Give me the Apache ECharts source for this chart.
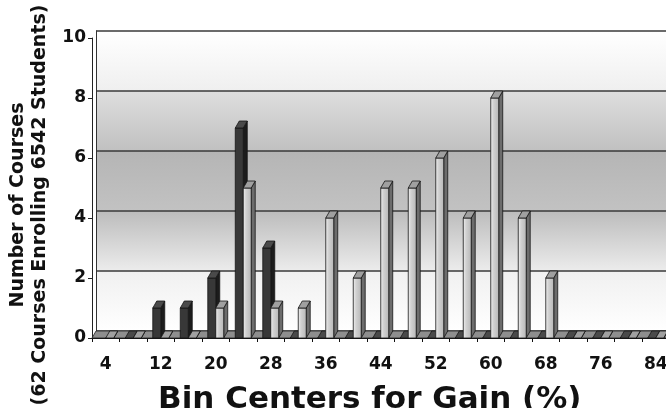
<!DOCTYPE html>
<html>
<head>
<meta charset="utf-8">
<script src="https://cdn.jsdelivr.net/npm/echarts@6/dist/echarts.min.js"></script>
<style>
  html, body { margin: 0; padding: 0; background: #ffffff; }
  #chart { width: 666px; height: 408px; }
</style>
</head>
<body>
<div id="chart"></div>
<script>
// Histogram of normalized gain, two course groups, drawn as Excel-style 3D columns.
const binCenters = ['4', '8', '12', '16', '20', '24', '28', '32', '36', '40', '44',
                    '48', '52', '56', '60', '64', '68', '72', '76', '80', '84'];
const darkCourses  = [null, 0, 1, 1, 2, 7, 3, 0, 0, 0, 0, 0, 0, 0, 0, 0, 0, 0, 0, 0, 0];
const lightCourses = [0, 0, 0, 0, 1, 5, 1, 1, 4, 2, 5, 5, 6, 4, 8, 4, 2, 0, 0, 0, 0];
const yMin = 0, yMax = 10, yStep = 2;
const yTickValues = [0, 2, 4, 6, 8, 10];

const FONT = 'DejaVu Sans';
const DX = 4, DY = -7;          // depth of the 3D projection
const BAR_RATIO = 0.29;         // column width relative to one bin
const EDGE = { stroke: '#151515', lineWidth: 0.8 };

// shading of the back wall between gridlines, bottom band first: [top colour, bottom colour]
const WALL_SHADES = [
  ['#f0f0f0', '#ffffff'],
  ['#bcbcbc', '#ececec'],
  ['#b5b5b5', '#c2c2c2'],
  ['#dedede', '#c0c0c0'],
  ['#ffffff', '#efefef']
];

const darkFaces = { front: '#383838', side: '#1c1c1c', top: '#4a4a4a' };
const lightFaces = {
  front: { type: 'linear', x: 0, y: 0, x2: 1, y2: 0,
           colorStops: [{ offset: 0, color: '#f4f4f4' }, { offset: 0.35, color: '#d2d2d2' },
                        { offset: 1, color: '#b6b6b6' }] },
  side: '#6c6c6c',
  top: '#a0a0a0'
};

// one shaded band of the back wall, spanning the whole plot width
function wallBandRenderer(params, api) {
  const cs = params.coordSys;
  const yHi = api.coord([0, api.value(2)])[1];
  const yLo = api.coord([0, api.value(1)])[1];
  const shade = WALL_SHADES[params.dataIndex % WALL_SHADES.length];
  return {
    type: 'rect',
    shape: { x: cs.x, y: yHi, width: cs.width, height: yLo - yHi },
    style: { fill: { type: 'linear', x: 0, y: 0, x2: 0, y2: 1,
                     colorStops: [{ offset: 0, color: shade[0] }, { offset: 1, color: shade[1] }] } }
  };
}

// a column: front face, right side face and top face; slot -1 = left of bin centre, 0 = right
function columnRenderer(slot, faces) {
  return function (params, api) {
    const v = api.value(1);
    if (v == null || isNaN(v)) return;
    const top = api.coord([api.value(0), v]);
    const base = api.coord([api.value(0), 0]);
    const w = api.size([1, 0])[0] * BAR_RATIO;
    const x0 = top[0] + slot * w, x1 = x0 + w;
    const yt = top[1], yb = base[1];
    return {
      type: 'group',
      children: [
        { type: 'polygon',
          shape: { points: [[x1, yt], [x1 + DX, yt + DY], [x1 + DX, yb + DY], [x1, yb]] },
          style: Object.assign({ fill: faces.side }, EDGE) },
        { type: 'rect', shape: { x: x0, y: yt, width: w, height: yb - yt },
          style: Object.assign({ fill: faces.front }, EDGE) },
        { type: 'polygon',
          shape: { points: [[x0, yt], [x1, yt], [x1 + DX, yt + DY], [x0 + DX, yt + DY]] },
          style: Object.assign({ fill: faces.top }, EDGE) }
      ]
    };
  };
}

// the floor strip between the front axis and the back wall
function floorRenderer(params, api) {
  const band = api.size([1, 0])[0];
  const a = api.coord([0, 0]);
  const b = api.coord([binCenters.length - 1, 0]);
  const xl = a[0] - band / 2, xr = b[0] + band / 2, y = a[1];
  return {
    type: 'polygon',
    shape: { points: [[xl, y], [xr, y], [xr + DX, y + DY], [xl + DX, y + DY]] },
    style: { fill: '#8e8e8e', stroke: '#222', lineWidth: 0.8 }
  };
}

const wallBands = yTickValues.slice(0, -1).map((v, i) => [0, v, yTickValues[i + 1]]);

const chart = echarts.init(document.getElementById('chart'), null, { renderer: 'canvas' });

chart.setOption({
  animation: false,
  backgroundColor: '#ffffff',
  grid: [
    { left: 92, top: 38, width: 577.5, height: 300,
      containLabel: false, outerBoundsMode: 'none' },             // front plane
    { left: 92 + DX, top: 38 + DY, width: 577.5, height: 300,
      containLabel: false, outerBoundsMode: 'none' }              // back wall
  ],
  xAxis: [
    {
      type: 'category', gridIndex: 0, data: binCenters, boundaryGap: true,
      axisLine: { lineStyle: { color: '#111', width: 1 } },
      axisTick: { show: true, interval: 0, length: 4, lineStyle: { color: '#111' } },
      axisLabel: { interval: 1, margin: 18, color: '#111',
                   fontFamily: FONT, fontWeight: 'bold', fontSize: 17 },
      name: 'Bin Centers for Gain (%)', nameLocation: 'middle', nameGap: 46,
      nameTextStyle: { color: '#111', fontFamily: FONT, fontWeight: 'bold', fontSize: 31,
                       padding: [0, 22, 0, 0] }
    },
    { type: 'category', gridIndex: 1, data: binCenters, show: false }
  ],
  yAxis: [
    {
      type: 'value', gridIndex: 0, min: yMin, max: yMax, interval: yStep,
      axisLine: { show: true, lineStyle: { color: '#222', width: 1 } },
      axisTick: { show: true, length: 4, lineStyle: { color: '#222' } },
      axisLabel: { margin: 6, color: '#111', fontFamily: FONT, fontWeight: 'bold', fontSize: 17 },
      splitLine: { show: false },
      name: 'Number of Courses\n(62 Courses Enrolling 6542 Students)',
      nameLocation: 'middle', nameRotate: 90, nameGap: 36,
      nameTextStyle: { color: '#111', fontFamily: FONT, fontWeight: 'bold', fontSize: 19,
                       lineHeight: 22, padding: [0, 34, 0, 0] }
    },
    {
      type: 'value', gridIndex: 1, min: yMin, max: yMax, interval: yStep,
      axisLine: { show: true, lineStyle: { color: '#333', width: 1 } },
      axisTick: { show: false },
      axisLabel: { show: false },
      splitLine: { show: true, lineStyle: { color: '#3a3a3a', width: 1.5 } },
      splitArea: { show: false }
    }
  ],
  series: [
    {
      type: 'custom', name: 'wall', xAxisIndex: 1, yAxisIndex: 1, z: -1, silent: true,
      renderItem: wallBandRenderer, encode: { x: 0, y: [1, 2] }, data: wallBands
    },
    {
      type: 'custom', name: 'floor', xAxisIndex: 0, yAxisIndex: 0,
      renderItem: floorRenderer, data: [[0, 0]], silent: true
    },
    {
      type: 'custom', name: 'group A', xAxisIndex: 0, yAxisIndex: 0,
      renderItem: columnRenderer(-1, darkFaces),
      encode: { x: 0, y: 1 },
      data: darkCourses.map((v, i) => [i, v == null ? NaN : v])
    },
    {
      type: 'custom', name: 'group B', xAxisIndex: 0, yAxisIndex: 0,
      renderItem: columnRenderer(0, lightFaces),
      encode: { x: 0, y: 1 },
      data: lightCourses.map((v, i) => [i, v])
    }
  ]
});
</script>
</body>
</html>
